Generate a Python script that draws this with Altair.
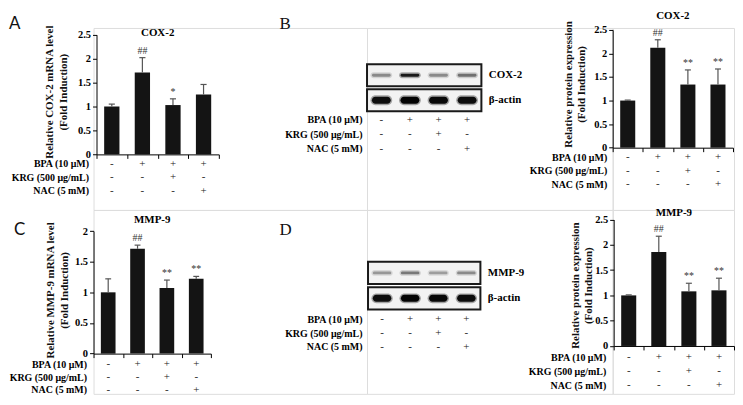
import altair as alt
import pandas as pd

# ---------------- data ----------------
lanes = [0, 1, 2, 3]
treatments = ["BPA (10 μM)", "KRG (500 μg/mL)", "NAC (5 mM)"]
bpa_signs = ["-", "+", "+", "+"]
krg_signs = ["-", "-", "+", "-"]
nac_signs = ["-", "-", "-", "+"]

cox2_mrna_mean = [1.00, 1.71, 1.03, 1.25]
cox2_mrna_err = [0.05, 0.31, 0.13, 0.21]
cox2_mrna_sig = ["", "##", "*", ""]

mmp9_mrna_mean = [1.00, 1.71, 1.07, 1.22]
mmp9_mrna_err = [0.22, 0.06, 0.13, 0.04]
mmp9_mrna_sig = ["", "##", "**", "**"]

cox2_prot_mean = [1.00, 2.12, 1.34, 1.34]
cox2_prot_err = [0.01, 0.17, 0.31, 0.33]
cox2_prot_sig = ["", "##", "**", "**"]

mmp9_prot_mean = [1.00, 1.86, 1.08, 1.10]
mmp9_prot_err = [0.01, 0.31, 0.16, 0.24]
mmp9_prot_sig = ["", "##", "**", "**"]

blot_rows_cox2 = ["COX-2", "β-actin"]
blot_rows_mmp9 = ["MMP-9", "β-actin"]
cox2_band = [0.35, 0.85, 0.35, 0.45]
mmp9_band = [0.30, 0.42, 0.28, 0.35]
actin_band_b = [0.92, 0.98, 0.95, 0.93]
actin_band_d = [0.92, 0.98, 0.95, 0.93]

# ---------------- style ----------------
SERIF = "Liberation Serif"
SANS = "Lato"
SY = 0.963
LAB = 10      # row label font size
TICK = 10.5   # tick label font size


def Y(v):
    return round(v * SY, 2)


def table_df():
    rows = []
    for t, s in zip(treatments, [bpa_signs, krg_signs, nac_signs]):
        for l, v in zip(lanes, s):
            rows.append({"treat": t, "lane": l, "sign": v})
    return pd.DataFrame(rows)


def table_layer(xs, xaxis, rows_y, lab_pad):
    return (
        alt.Chart(table_df())
        .transform_calculate(cx="datum.lane + 0.5")
        .mark_text(font=SERIF, fontSize=11, color="#222")
        .encode(
            x=alt.X("cx:Q", scale=xs, axis=xaxis),
            y=alt.Y(
                "treat:N",
                sort=treatments,
                scale=alt.Scale(type="point", domain=treatments,
                                range=[Y(rows_y[0]), Y(rows_y[1])], padding=0),
                axis=alt.Axis(orient="left", title=None, domain=False, ticks=False,
                              labelPadding=lab_pad, labelFont=SERIF, labelFontSize=LAB,
                              labelFontWeight="bold", labelColor="black"),
            ),
            text="sign:N",
        )
    )


def text_layer(txt, x, y, font, size, weight="normal", angle=0, align="center"):
    return (
        alt.Chart(pd.DataFrame({"t": [txt]}))
        .mark_text(font=font, fontSize=size, fontWeight=weight, angle=angle,
                   align=align, baseline="middle", color="#111")
        .encode(x=alt.value(x), y=alt.value(Y(y)), text="t:N")
    )


def bar_panel(mean, err, sig, ytitle, ymax, title, cell_w, cell_h, xr,
              zero_y, top_y, rows_y, lab_pad, title_y, letter, letter_xy, letter_font,
              ytitle_dx, ytitle_y):
    xs = alt.Scale(domain=[0, 4], range=[xr[0], xr[1]], nice=False, zero=False)
    ys = alt.Scale(domain=[0, ymax], range=[Y(zero_y), Y(top_y)], nice=False, zero=False)
    yvals = [i * 0.5 for i in range(int(round(ymax * 2)) + 1)]
    xaxis = alt.Axis(values=[0, 1, 2, 3, 4], labels=False, title=None, grid=False,
                     tickSize=4, offset=Y(zero_y) - Y(cell_h),
                     domainColor="#000", tickColor="#000")
    yaxis = alt.Axis(values=yvals, labelExpr="datum.value + ''", title=None,
                     grid=False, tickSize=4, offset=-xr[0], labelOverlap=False,
                     domainColor="#000", tickColor="#000",
                     labelFont=SERIF, labelFontSize=TICK, labelFontWeight="bold",
                     labelColor="black", labelPadding=2)
    df = pd.DataFrame({"lane": lanes, "mean": mean, "err": err, "sig": sig})
    base = alt.Chart(df).transform_calculate(
        x0="datum.lane + 0.25", x1="datum.lane + 0.75", cx="datum.lane + 0.5",
        c0="datum.lane + 0.4", c1="datum.lane + 0.6", top="datum.mean + datum.err",
    )
    bars = base.mark_rect(color="#141414").encode(
        x=alt.X("x0:Q", scale=xs, axis=xaxis),
        x2="x1:Q",
        y=alt.Y("mean:Q", scale=ys, axis=yaxis),
        y2=alt.datum(0),
    )
    err_rule = base.mark_rule(color="#555", strokeWidth=1.2).encode(
        x=alt.X("cx:Q", scale=xs, axis=xaxis),
        y=alt.Y("mean:Q", scale=ys, axis=yaxis),
        y2="top:Q",
    )
    cap = base.mark_rule(color="#555", strokeWidth=1.2).encode(
        x=alt.X("c0:Q", scale=xs, axis=xaxis),
        x2="c1:Q",
        y=alt.Y("top:Q", scale=ys, axis=yaxis),
    )
    sig_text = base.mark_text(dy=-7, font=SERIF, fontSize=10, color="#333").encode(
        x=alt.X("cx:Q", scale=xs, axis=xaxis),
        y=alt.Y("top:Q", scale=ys, axis=yaxis),
        text="sig:N",
    )
    title_text = (
        alt.Chart(pd.DataFrame({"t": [title]}))
        .mark_text(font=SERIF, fontSize=11, fontWeight="bold", color="black")
        .encode(x=alt.X(datum=2, scale=xs, axis=xaxis), y=alt.value(Y(title_y)), text="t:N")
    )
    inner = alt.layer(bars, err_rule, cap, sig_text, title_text)
    outer = [inner, table_layer(xs, xaxis, [rows_y[0], rows_y[2]], lab_pad),
             text_layer(ytitle[0], xr[0] + ytitle_dx[0], ytitle_y, SERIF, 11, "bold", 270),
             text_layer(ytitle[1], xr[0] + ytitle_dx[1], ytitle_y, SERIF, 11, "bold", 270)]
    if letter:
        outer.append(text_layer(letter, letter_xy[0], letter_xy[1], letter_font, 17,
                                align="left"))
    return (
        alt.layer(*outer)
        .resolve_scale(y="independent")
        .properties(width=cell_w, height=Y(cell_h))
    )


def blot_panel(rows, target_band, actin_band, cell_w, cell_h, xr, box_top, box_bot,
               rows_y, letter, letter_xy):
    xs = alt.Scale(domain=[0, 4], range=[xr[0], xr[1]], nice=False, zero=False)
    yb = alt.Scale(type="band", domain=rows, range=[Y(box_top), Y(box_bot)],
                   paddingInner=0.12, paddingOuter=0)
    baxis = alt.Axis(orient="right", offset=xr[1] - cell_w, labelPadding=7,
                     domain=False, ticks=False, title=None,
                     labelFont=SERIF, labelFontSize=11, labelFontWeight="bold",
                     labelColor="black")
    boxes = (
        alt.Chart(pd.DataFrame({"row": rows}))
        .mark_rect(fill="#f2f2f2", stroke="#1a1a1a", strokeWidth=2)
        .encode(
            x=alt.X(datum=0, scale=xs, axis=None),
            x2=alt.X2(datum=4),
            y=alt.Y("row:N", sort=rows, scale=yb, axis=baxis),
        )
    )
    bdf = pd.DataFrame({
        "row": [rows[0]] * 4 + [rows[1]] * 4,
        "lane": lanes * 2,
        "inten": target_band + actin_band,
    })
    bbase = alt.Chart(bdf).transform_calculate(
        h0="datum.lane + 0.12", h1="datum.lane + 0.88",
        k0="datum.lane + 0.17", k1="datum.lane + 0.83",
        halo="datum.inten * 0.35",
    )

    def bands(row, halo_size, core_size):
        f = bbase.transform_filter(alt.datum.row == row)
        halo = f.mark_bar(size=halo_size, cornerRadius=halo_size / 2, color="#000").encode(
            x=alt.X("h0:Q", scale=xs, axis=None), x2="h1:Q",
            y=alt.Y("row:N", sort=rows, scale=yb, axis=baxis),
            opacity=alt.Opacity("halo:Q", scale=None),
        )
        core = f.mark_bar(size=core_size, cornerRadius=core_size / 2, color="#000").encode(
            x=alt.X("k0:Q", scale=xs, axis=None), x2="k1:Q",
            y=alt.Y("row:N", sort=rows, scale=yb, axis=baxis),
            opacity=alt.Opacity("inten:Q", scale=None),
        )
        return [halo, core]

    inner = alt.layer(boxes, *bands(rows[0], 6, 3), *bands(rows[1], 10, 7))
    return (
        alt.layer(inner, table_layer(xs, None, [rows_y[0], rows_y[1]], 5),
                  text_layer(letter, letter_xy[0], letter_xy[1], SERIF, 17, align="left"))
        .resolve_scale(y="independent")
        .properties(width=cell_w, height=Y(cell_h))
    )


# ---------------- panels ----------------
A = bar_panel(cox2_mrna_mean, cox2_mrna_err, cox2_mrna_sig,
              ["Relative COX-2 mRNA level", "(Fold  Induction)"], 2.5, "COX-2",
              275, 190, [3, 126], 132, 7, [142, 156, 170], 5, 5, "A", (-85, -4), SANS,
              (-47, -33), 67)
BB = blot_panel(blot_rows_cox2, cox2_band, actin_band_b, 247, 190, [0, 115], 38, 87,
                [96, 126], "B", (-88, -4))
BC = bar_panel(cox2_prot_mean, cox2_prot_err, cox2_prot_sig,
               ["Relative protein expression", "(Fold Induction)"], 2.5, "COX-2",
               122, 190, [0, 121], 125, 2, [135, 149, 163], 6, -12, "", (0, 0), SANS,
               (-44, -31), 59)
C = bar_panel(mmp9_mrna_mean, mmp9_mrna_err, mmp9_mrna_sig,
              ["Relative MMP-9 mRNA level", "(Fold  Induction)"], 2.0, "MMP-9",
              275, 192, [0, 118], 150, 22, [161, 174, 188], 7, 11, "C", (-80, 21), SANS,
              (-43, -29), 84)
DB = blot_panel(blot_rows_mmp9, mmp9_band, actin_band_d, 247, 192, [1, 114], 54, 104,
                [114, 143], "D", (-88, 21))
DC = bar_panel(mmp9_prot_mean, mmp9_prot_err, mmp9_prot_sig,
               ["Relative protein expression", "(Fold Induction)"], 2.5, "MMP-9",
               122, 192, [1, 122], 142, 10, [154, 169, 183], 7, 3, "", (0, 0), SANS,
               (-38, -25), 79)

chart = (
    alt.concat(A, BB, BC, C, DB, DC, columns=3, spacing=0, bounds="flush", align="each")
    .properties(padding={"left": 0, "top": 0, "right": 0, "bottom": 0})
    .configure_view(strokeWidth=0, stroke="transparent")
    .configure(font=SERIF)
)

chart.save("out.html", embed_options={"renderer": "svg", "actions": False})
